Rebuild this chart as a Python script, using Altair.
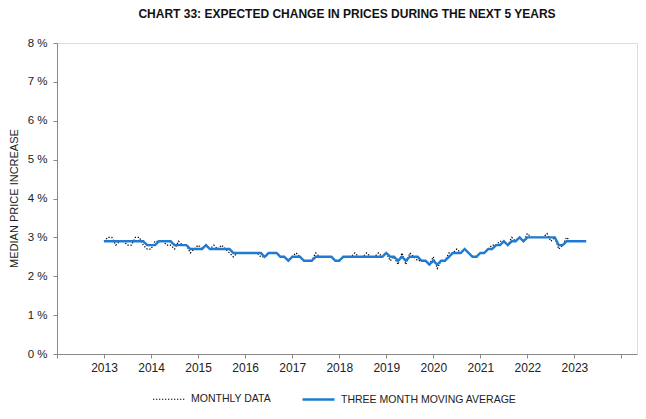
import altair as alt
import pandas as pd

FONT = "Liberation Sans"

# Monthly data, Jan 2013 .. Apr 2023 (percent)
monthly = [
    2.9, 3.0, 3.0, 2.8, 2.9, 2.9, 2.8, 2.8, 3.0, 3.0, 2.8, 2.7,   # 2013
    2.7, 2.9, 2.9, 2.9, 2.8, 2.8, 2.7, 2.9, 2.8, 2.8, 2.6, 2.7,   # 2014
    2.8, 2.7, 2.8, 2.7, 2.8, 2.7, 2.8, 2.7, 2.6, 2.5, 2.6, 2.6,   # 2015
    2.6, 2.6, 2.6, 2.6, 2.5, 2.5, 2.6, 2.6, 2.6, 2.5, 2.5, 2.4,   # 2016
    2.5, 2.6, 2.5, 2.4, 2.4, 2.4, 2.6, 2.5, 2.5, 2.5, 2.5, 2.4,   # 2017
    2.4, 2.5, 2.5, 2.5, 2.6, 2.5, 2.5, 2.6, 2.5, 2.5, 2.6, 2.5,   # 2018
    2.6, 2.4, 2.5, 2.3, 2.6, 2.3, 2.6, 2.5, 2.4, 2.4, 2.4, 2.3,   # 2019
    2.5, 2.2, 2.4, 2.4, 2.6, 2.6, 2.7, 2.6, 2.7, 2.6, 2.5, 2.5,   # 2020
    2.6, 2.6, 2.7, 2.8, 2.8, 2.9, 2.9, 2.8, 3.0, 2.9, 3.0, 2.9,   # 2021
    3.1, 3.0, 3.0, 3.0, 3.0, 3.1, 2.9, 3.0, 2.7, 2.8, 3.0, 2.9,   # 2022
    2.9, 2.9, 2.9, 2.9,                                           # 2023
]

# Three month moving average, Jan 2013 .. Apr 2023 (percent)
moving_avg = [
    2.9, 2.9, 2.9, 2.9, 2.9, 2.9, 2.9, 2.9, 2.9, 2.9, 2.9, 2.8,   # 2013
    2.8, 2.8, 2.9, 2.9, 2.9, 2.9, 2.8, 2.8, 2.8, 2.8, 2.7, 2.7,   # 2014
    2.7, 2.7, 2.8, 2.7, 2.7, 2.7, 2.7, 2.7, 2.7, 2.6, 2.6, 2.6,   # 2015
    2.6, 2.6, 2.6, 2.6, 2.6, 2.5, 2.6, 2.6, 2.6, 2.5, 2.5, 2.4,   # 2016
    2.5, 2.5, 2.5, 2.4, 2.4, 2.4, 2.5, 2.5, 2.5, 2.5, 2.5, 2.4,   # 2017
    2.4, 2.5, 2.5, 2.5, 2.5, 2.5, 2.5, 2.5, 2.5, 2.5, 2.5, 2.5,   # 2018
    2.6, 2.5, 2.5, 2.4, 2.5, 2.4, 2.5, 2.5, 2.5, 2.4, 2.4, 2.3,   # 2019
    2.4, 2.3, 2.4, 2.4, 2.5, 2.6, 2.6, 2.6, 2.7, 2.6, 2.5, 2.5,   # 2020
    2.6, 2.6, 2.7, 2.7, 2.8, 2.8, 2.9, 2.8, 2.9, 2.9, 3.0, 2.9,   # 2021
    3.0, 3.0, 3.0, 3.0, 3.0, 3.0, 3.0, 3.0, 2.8, 2.8, 2.9, 2.9,   # 2022
    2.9, 2.9, 2.9, 2.9,                                           # 2023
]

start_year = 2013
x_tick_values = list(range(2012, 2025))
y_tick_values = list(range(0, 9))
series_names = ["MONTHLY DATA", "THREE MONTH MOVING AVERAGE"]

n = len(monthly)
years = [start_year + i / 12 for i in range(n)]
df = pd.DataFrame({
    "year": years + years,
    "value": monthly + moving_avg,
    "series": [series_names[0]] * n + [series_names[1]] * n,
})

legend = alt.Legend(
    title=None,
    orient="none",
    legendX=95,
    legendY=339,
    direction="horizontal",
    symbolType="stroke",
    symbolSize=1024,
    labelFont=FONT,
    labelFontSize=10.5,
    labelColor="#222222",
    labelOffset=5,
    labelLimit=400,
    columnPadding=26,
    padding=0,
)

chart = alt.Chart(df).mark_line().encode(
    x=alt.X(
        "year:Q",
        scale=alt.Scale(domain=[2012, 2024.33], nice=False, zero=False),
        axis=alt.Axis(
            values=x_tick_values,
            labelExpr="(datum.value >= 2013 && datum.value <= 2023) ? format(datum.value, 'd') : ''",
            labelOverlap=False,
            labelFlush=False,
            grid=False,
            title=None,
            tickSize=4,
            tickColor="#888888",
            domainColor="#888888",
            labelFont=FONT,
            labelFontSize=12,
            labelColor="#222222",
            labelPadding=4,
        ),
    ),
    y=alt.Y(
        "value:Q",
        scale=alt.Scale(domain=[0, 8], nice=False, zero=True),
        axis=alt.Axis(
            values=y_tick_values,
            labelExpr="datum.value + ' %'",
            grid=False,
            title="MEDIAN PRICE INCREASE",
            titleFont=FONT,
            titleFontSize=11,
            titleFontWeight="normal",
            titleColor="#222222",
            titleX=-43,
            titleY=155,
            titleAngle=-90,
            titleAlign="center",
            titleBaseline="middle",
            tickSize=4,
            tickColor="#888888",
            domainColor="#888888",
            labelFont=FONT,
            labelFontSize=11.5,
            labelColor="#222222",
            labelPadding=6,
        ),
    ),
    color=alt.Color(
        "series:N",
        scale=alt.Scale(domain=series_names, range=["#000000", "#1f7bd1"]),
        legend=legend,
    ),
    strokeDash=alt.StrokeDash(
        "series:N",
        scale=alt.Scale(domain=series_names, range=[[1.3, 1.7], [1, 0]]),
        legend=legend,
    ),
    strokeWidth=alt.StrokeWidth(
        "series:N",
        scale=alt.Scale(domain=series_names, range=[1.2, 2.4]),
        legend=legend,
    ),
).properties(
    width=580,
    height=311,
    title=alt.TitleParams(
        text="CHART 33: EXPECTED CHANGE IN PRICES DURING THE NEXT 5 YEARS",
        font=FONT,
        fontSize=12,
        fontWeight="bold",
        color="#111111",
        anchor="middle",
        frame="group",
        offset=16,
    ),
    autosize=alt.AutoSizeParams(type="none"),
    padding={"left": 49, "top": 35, "right": 1, "bottom": 57},
).configure_view(
    stroke="#333333",
    strokeWidth=1,
).configure(background="white")

chart.save("out.html", embed_options={"renderer": "svg", "actions": False})
